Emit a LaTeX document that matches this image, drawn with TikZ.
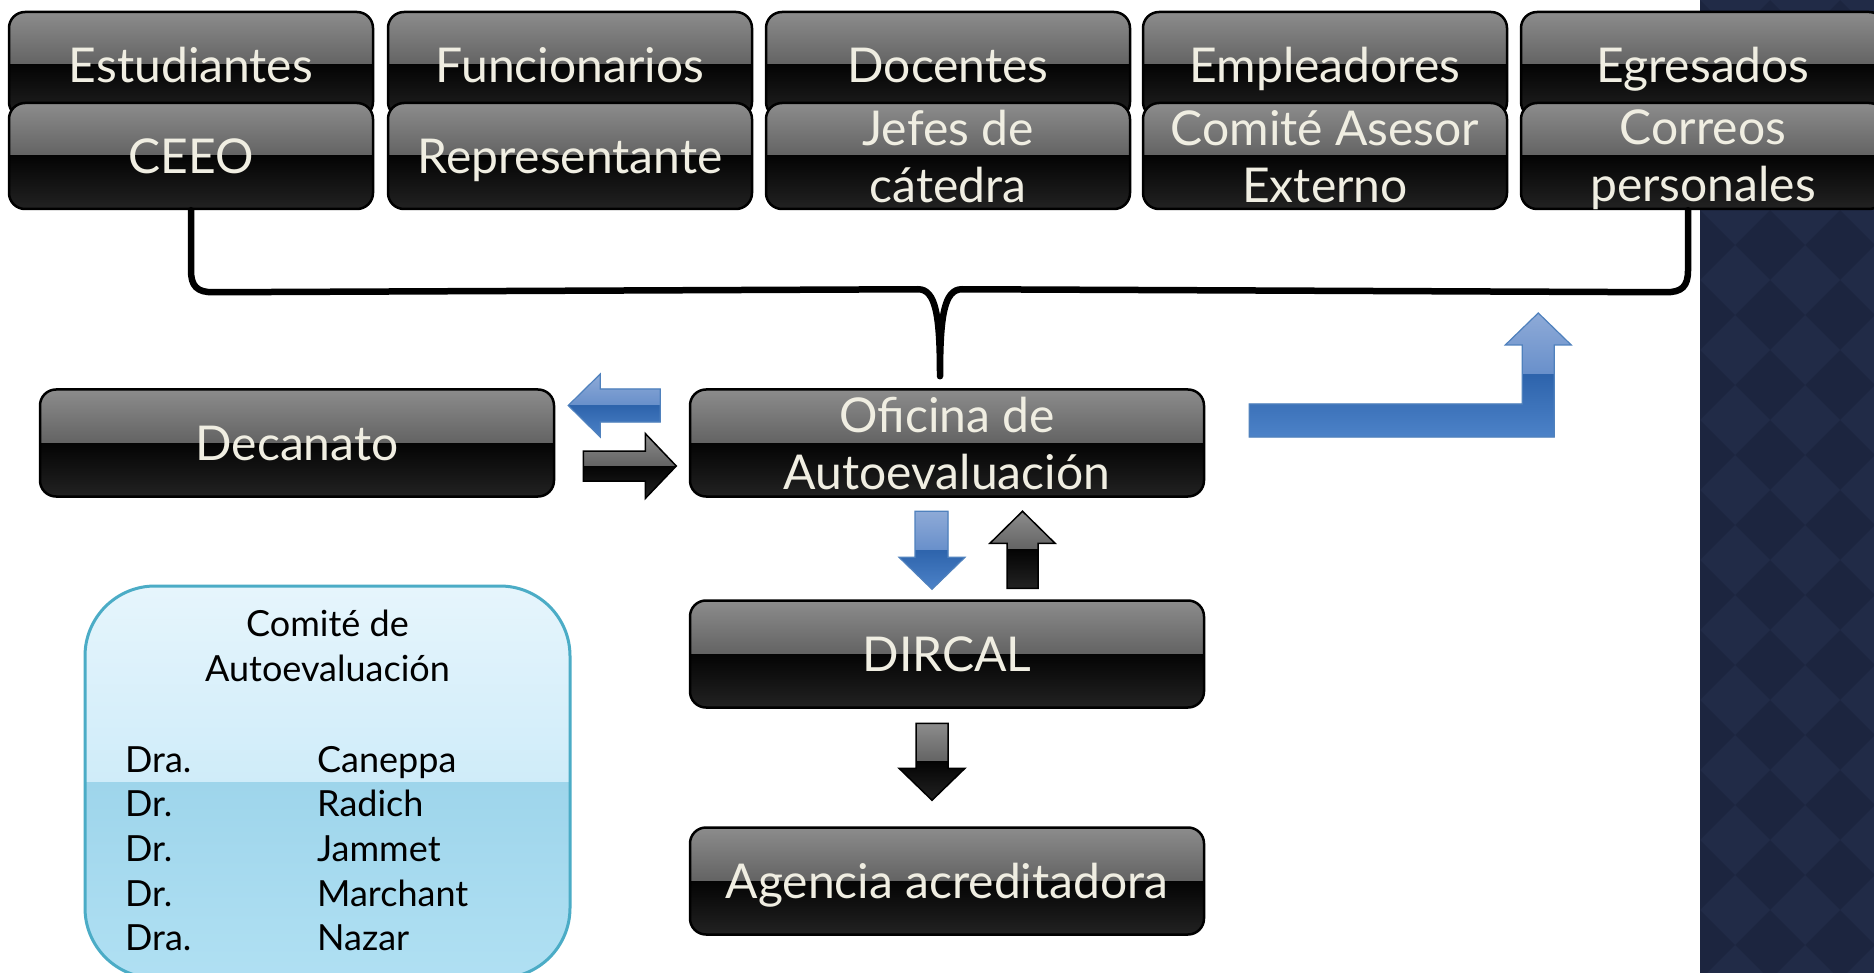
\documentclass[tikz,border=0pt]{standalone}
\usepackage{fontspec}
\setmainfont{Lato}
\usetikzlibrary{calc}
\definecolor{cream}{RGB}{240,238,226}
\definecolor{navy}{RGB}{28,37,63}
\definecolor{navyl}{RGB}{33,43,71}
\definecolor{comborder}{RGB}{75,172,198}
\definecolor{comtop}{RGB}{230,245,252}
\definecolor{commid}{RGB}{184,227,246}
\definecolor{comlow}{RGB}{158,213,235}
\definecolor{combot}{RGB}{176,224,243}
\definecolor{blt}{RGB}{142,170,215}
\definecolor{bmid}{RGB}{66,117,190}
\definecolor{bdark}{RGB}{46,100,172}
\definecolor{bbot}{RGB}{76,130,200}
\definecolor{bline}{RGB}{79,129,189}
\definecolor{gtop}{RGB}{140,140,140}
\definecolor{gmid}{RGB}{58,58,58}
\definecolor{kmid}{RGB}{4,4,4}
\definecolor{kbot}{RGB}{34,34,34}
\tikzset{
  gloss/.style n args={4}{path picture={
    \shade[sharp corners,top color=#1,bottom color=#2] (path picture bounding box.north west) rectangle (path picture bounding box.east);
    \shade[sharp corners,top color=#3,bottom color=#4] (path picture bounding box.west) rectangle (path picture bounding box.south east);}},
  gbox/.style={draw=black, line width=2.5pt, rounded corners=16pt, fill=black,
    gloss={gtop}{gmid}{kmid}{kbot}, text=cream, font=\fontsize{48}{57}\selectfont,
    align=center, inner sep=0pt, text depth=0pt},
  smallbox/.style={gbox, minimum width=364pt, minimum height=106pt},
  widebox/.style={gbox, minimum width=514pt, minimum height=107pt},
  oneline/.style={text height=34.5pt},
  bluearr/.style={draw=bline, line width=1.2pt, fill=bmid, line join=miter, gloss={blt}{bmid}{bdark}{bbot}},
  blackarr/.style={draw=black, line width=1.5pt, fill=black, line join=miter, gloss={gtop}{gmid}{kmid}{kbot}},
  bracepath/.style={line width=6.5pt, line cap=round, line join=round},
  combox/.style={draw=comborder, line width=3pt, rounded corners=70pt, fill=commid,
    gloss={comtop}{commid}{comlow}{combot}, minimum width=485pt, minimum height=392pt, inner sep=0pt},
  comtext/.style={font=\fontsize{36}{44.7}\selectfont, text=black, inner sep=0pt, text depth=0pt}
}
\begin{document}
\begin{tikzpicture}[x=1pt,y=-1pt]
\useasboundingbox (0,0) rectangle (1874,973);
\clip (0,0) rectangle (1874,973);
\fill[white] (0,0) rectangle (1874,973);
% right decorative panel
\begin{scope}
\clip (1700,0) rectangle (1874,973);
\fill[navy] (1700,0) rectangle (1874,973);
\foreach \i in {0,...,3}{\foreach \j in {0,...,14}{
  \fill[navyl] ({1735+\i*70},{\j*70-35}) -- ++(35,35) -- ++(-35,35) -- ++(-35,-35) -- cycle;}}
\end{scope}
% upper row
\node[smallbox,oneline] (est) at (191,65) {Estudiantes};
\node[smallbox,oneline] (fun) at (570,65) {Funcionarios};
\node[smallbox,oneline] (doc) at (948,65) {Docentes};
\node[smallbox,oneline] (emp) at (1325,65) {Empleadores};
\node[smallbox,oneline] (egr) at (1703,65) {Egresados};
% lower row
\node[smallbox,oneline] (cee) at (191,156) {CEEO};
\node[smallbox,oneline] (rep) at (570,156) {Representante};
\node[smallbox] (jef) at (948,156) {Jefes de\\cátedra};
\node[smallbox] (cae) at (1325,156) {Comité Asesor\\Externo};
\node[smallbox] (cor) at (1703,156) {Correos\\personales};
% middle column
\node[widebox,oneline] (dec) at (297,443) {Decanato};
\node[widebox] (ofi) at (947,443) {Oficina de\\Autoevaluación};
\node[widebox,oneline] (dir) at (947,654) {DIRCAL};
\node[widebox,oneline] (age) at (947,881) {Agencia acreditadora};
% brace
\coordinate (tip) at ($(ofi.north)+(-7,-12)$);
\draw[bracepath] (cee.south) -- ++(0,60) .. controls +(0,16) and +(-16,0) .. ++(22,22)
  -- ($(tip)+(-22,-87)$) .. controls +(18,0) and +(0,-60) .. (tip)
  .. controls +(0,-60) and +(-18,0) .. ($(tip)+(22,-87)$)
  -- ($(cor.south)+(-37,82)$) .. controls +(16,0) and +(0,16) .. ($(cor.south)+(-15,60)$)
  -- ($(cor.south)+(-15,0)$);
% arrows Decanato <-> Oficina
\coordinate (al) at ($(dec.east)+(13,-37.5)$);
\draw[bluearr] (al) -- ++(32,-31.5) -- ++(0,15) -- ++(60,0) -- ++(0,33) -- ++(-60,0) -- ++(0,15) -- cycle;
\coordinate (ar) at ($(dec.east)+(28,8)$);
\draw[blackarr] (ar) -- ++(62,0) -- ++(0,-17.5) -- ++(31,32.5) -- ++(-31,32.5) -- ++(0,-17.5) -- ++(-62,0) -- cycle;
% arrows Oficina <-> DIRCAL
\coordinate (ad) at ($(ofi.south)+(-32,13.5)$);
\draw[bluearr] (ad) -- ++(33,0) -- ++(0,46) -- ++(17,0) -- ++(-33,32) -- ++(-33,-32) -- ++(16,0) -- cycle;
\coordinate (au) at ($(ofi.south)+(60,90.5)$);
\draw[blackarr] (au) -- ++(31,0) -- ++(0,-45) -- ++(17,0) -- ++(-32.5,-32) -- ++(-32.5,32) -- ++(17,0) -- cycle;
% arrow DIRCAL -> Agencia
\coordinate (ag) at ($(dir.south)+(-31,14.5)$);
\draw[blackarr] (ag) -- ++(32,0) -- ++(0,45) -- ++(17,0) -- ++(-33,32) -- ++(-33,-32) -- ++(17,0) -- cycle;
% bent arrow from Oficina to the stakeholders
\coordinate (bs) at ($(ofi.east)+(44,-39)$);
\draw[bluearr] (bs) -- ++(273,0) -- ++(0,-59) -- ++(-17,0) -- ++(33,-32) -- ++(33,32) -- ++(-17,0) -- ++(0,92) -- ++(-305,0) -- cycle;
% committee box
\node[combox] (com) at (327.5,782) {};
\node[comtext, align=center] (comt) at (327.5,646) {Comité de\\Autoevaluación};
\node[comtext, anchor=base west] (coml) at (125,772) {\begin{tabular}[t]{@{}p{192pt}@{}l@{}}
Dra. & Caneppa\\
Dr. & Radich\\
Dr. & Jammet\\
Dr. & Marchant\\
Dra. & Nazar
\end{tabular}};
\end{tikzpicture}
\end{document}
